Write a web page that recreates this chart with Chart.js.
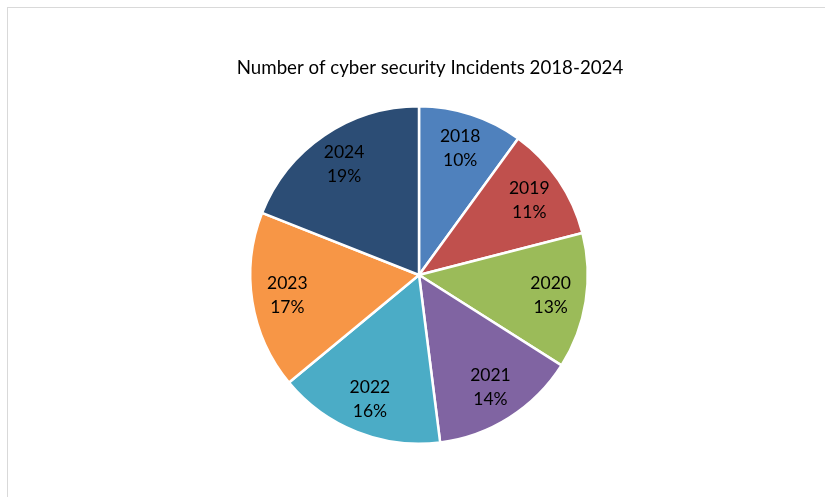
<!DOCTYPE html>
<html>
<head>
<meta charset="utf-8">
<script src="https://cdn.jsdelivr.net/npm/chart.js@4"></script>
<style>
  body { margin: 0; background: #fff; }
  #frame { position: absolute; left: 7px; top: 7px; width: 830px; height: 500px; border: 1px solid #d9d9d9; box-sizing: border-box; }
  #wrap { position: absolute; left: 0; top: 0; width: 825px; height: 497px; }
</style>
</head>
<body>
<div id="frame"></div>
<div id="wrap"><canvas id="pie_chart"></canvas></div>
<script>
// chart data
const years = ['2018', '2019', '2020', '2021', '2022', '2023', '2024'];
const shares = [10, 11, 13, 14, 16, 17, 19];
const sliceColors = ['#4F81BD', '#C0504D', '#9BBB59', '#8064A2', '#4BACC6', '#F79646', '#2C4D75'];
const chartTitle = 'Number of cyber security Incidents 2018-2024';

const fontName = 'Lato, "Open Sans", sans-serif';

// title + labels inside slices, excel style
const pieText = {
  id: 'pieText',
  afterDraw(chart) {
    const ctx = chart.ctx;
    ctx.save();
    ctx.fillStyle = '#000';
    ctx.textAlign = 'center';
    ctx.textBaseline = 'middle';
    ctx.font = '18.7px ' + fontName;
    ctx.fillText(chartTitle, 430, 68);

    const total = shares.reduce((a, b) => a + b, 0);
    ctx.font = '17.5px ' + fontName;
    chart.getDatasetMeta(0).data.forEach((arc, i) => {
      const mid = (arc.startAngle + arc.endAngle) / 2;
      const r = arc.outerRadius * 0.79;
      const x = arc.x + Math.cos(mid) * r;
      const y = arc.y + Math.sin(mid) * r;
      const pct = Math.round(shares[i] / total * 100) + '%';
      ctx.fillText(years[i], x, y - 12);
      ctx.fillText(pct, x, y + 12);
    });
    ctx.restore();
  }
};

new Chart(document.getElementById('pie_chart'), {
  type: 'pie',
  data: {
    labels: years,
    datasets: [{
      data: shares,
      backgroundColor: sliceColors,
      borderColor: '#fff',
      borderWidth: 2.5
    }]
  },
  options: {
    responsive: true,
    maintainAspectRatio: false,
    animation: false,
    layout: { padding: { left: 249, right: 236, top: 105, bottom: 52 } },
    plugins: {
      legend: { display: false },
      title: { display: false },
      tooltip: { enabled: false }
    }
  },
  plugins: [pieText]
});
</script>
</body>
</html>
